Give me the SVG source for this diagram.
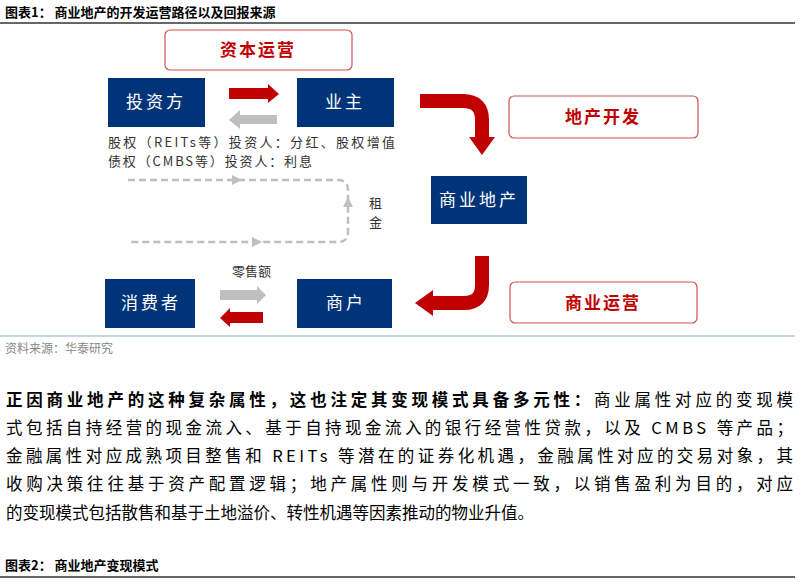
<svg xmlns="http://www.w3.org/2000/svg" width="800" height="583" viewBox="0 0 800 583">
<style>
text{font-family:"Noto Sans CJK SC","Liberation Sans",sans-serif}
.nb{fill:#003478}
.nt{fill:#fff;font-size:17px;text-anchor:middle;letter-spacing:3px}
.rb{fill:#fff;stroke:#d05050;stroke-width:1.2}
.rt{fill:#c00000;font-size:17px;text-anchor:middle;font-weight:bold;letter-spacing:2px}
.sm{font-size:13px;fill:#333}
.p{font-size:16.5px;fill:#000}
.h{font-size:13px;font-weight:bold;fill:#000}
.red{fill:#c00000}
.gry{fill:#bfbfbf}
</style>
<rect width="800" height="583" fill="#fff"/>
<text class="h" x="5" y="17">图表1：  商业地产的开发运营路径以及回报来源</text>
<line x1="0" y1="23" x2="795" y2="23" stroke="#333" stroke-width="1.5"/>
<g id="n-capital"><rect class="rb" x="165" y="30" width="187" height="40" rx="5"/><text class="rt" x="258" y="56">资本运营</text></g>
<g id="n-investor"><rect class="nb" x="108" y="78" width="97" height="49"/><text class="nt" x="156" y="108">投资方</text></g>
<g id="n-owner"><rect class="nb" x="297" y="78" width="97" height="49"/><text class="nt" x="345" y="108">业主</text></g>
<g id="n-dev"><rect class="rb" x="509" y="96" width="189" height="42" rx="5"/><text class="rt" x="603" y="123">地产开发</text></g>
<g id="n-cre"><rect class="nb" x="431" y="176" width="96" height="48"/><text class="nt" x="479" y="206">商业地产</text></g>
<g id="n-ops"><rect class="rb" x="510" y="282" width="187" height="41" rx="5"/><text class="rt" x="603" y="309">商业运营</text></g>
<g id="n-consumer"><rect class="nb" x="105" y="279" width="90" height="49"/><text class="nt" x="151" y="309">消费者</text></g>
<g id="n-tenant"><rect class="nb" x="297" y="279" width="95" height="49"/><text class="nt" x="346" y="309">商户</text></g>
<g id="labels">
<text class="sm" x="108" y="147" textLength="287" lengthAdjust="spacing">股权（REITs等）投资人：分红、股权增值</text>
<text class="sm" x="108" y="166" textLength="204" lengthAdjust="spacing">债权（CMBS等）投资人：利息</text>
<text class="sm" x="369" y="208">租</text>
<text class="sm" x="369" y="227">金</text>
<text class="sm" x="232" y="276" font-size="12">零售额</text>
</g>
<g id="connectors">
<polygon class="red" points="229,88 268,88 268,84 279,94 268,103 268,99 229,99"/>
<polygon class="gry" points="277,115 240,115 240,110 229,120 240,129 240,124 277,124"/>
<polygon class="gry" points="220,290 257,290 257,286 266,295 257,304 257,300 220,300"/>
<polygon class="red" points="263,312 230,312 230,308 220,318 230,327 230,323 263,323"/>
<path d="M128,180 H338 Q348,180 348,190 V232 Q348,242 338,242 H128" fill="none" stroke="#bfbfbf" stroke-width="2.5" stroke-dasharray="7,4"/>
<polygon class="gry" points="232,175 242,180 232,185"/>
<polygon class="gry" points="252,237 262,242 252,247"/>
<polygon class="gry" points="343,207 348,197 353,207"/>
<path d="M420,101 H463 Q482,101 482,120 V138" fill="none" stroke="#c00000" stroke-width="14"/>
<polygon class="red" points="469,137 495,137 482,155"/>
<path d="M482,256 V285 Q482,303 464,303 H432" fill="none" stroke="#c00000" stroke-width="14"/>
<polygon class="red" points="433,290 433,316 415,303"/>
</g>
<line x1="0" y1="336" x2="795" y2="336" stroke="#8fb0d0" stroke-width="1.2"/>
<text x="5" y="353" font-size="12" fill="#888">资料来源：华泰研究</text>
<text class="p" x="6" y="406" textLength="787" lengthAdjust="spacing"><tspan font-weight="bold">正因商业地产的这种复杂属性，这也注定其变现模式具备多元性：</tspan>商业属性对应的变现模</text>
<text class="p" x="6" y="434" textLength="787" lengthAdjust="spacing">式包括自持经营的现金流入、基于自持现金流入的银行经营性贷款，以及 CMBS 等产品；</text>
<text class="p" x="6" y="462" textLength="787" lengthAdjust="spacing">金融属性对应成熟项目整售和 REITs 等潜在的证券化机遇，金融属性对应的交易对象，其</text>
<text class="p" x="6" y="490" textLength="787" lengthAdjust="spacing">收购决策往往基于资产配置逻辑；地产属性则与开发模式一致，以销售盈利为目的，对应</text>
<text class="p" x="6" y="519">的变现模式包括散售和基于土地溢价、转性机遇等因素推动的物业升值。</text>
<text class="h" x="5" y="570">图表2：  商业地产变现模式</text>
<line x1="0" y1="577" x2="795" y2="577" stroke="#333" stroke-width="1.5"/>
</svg>
